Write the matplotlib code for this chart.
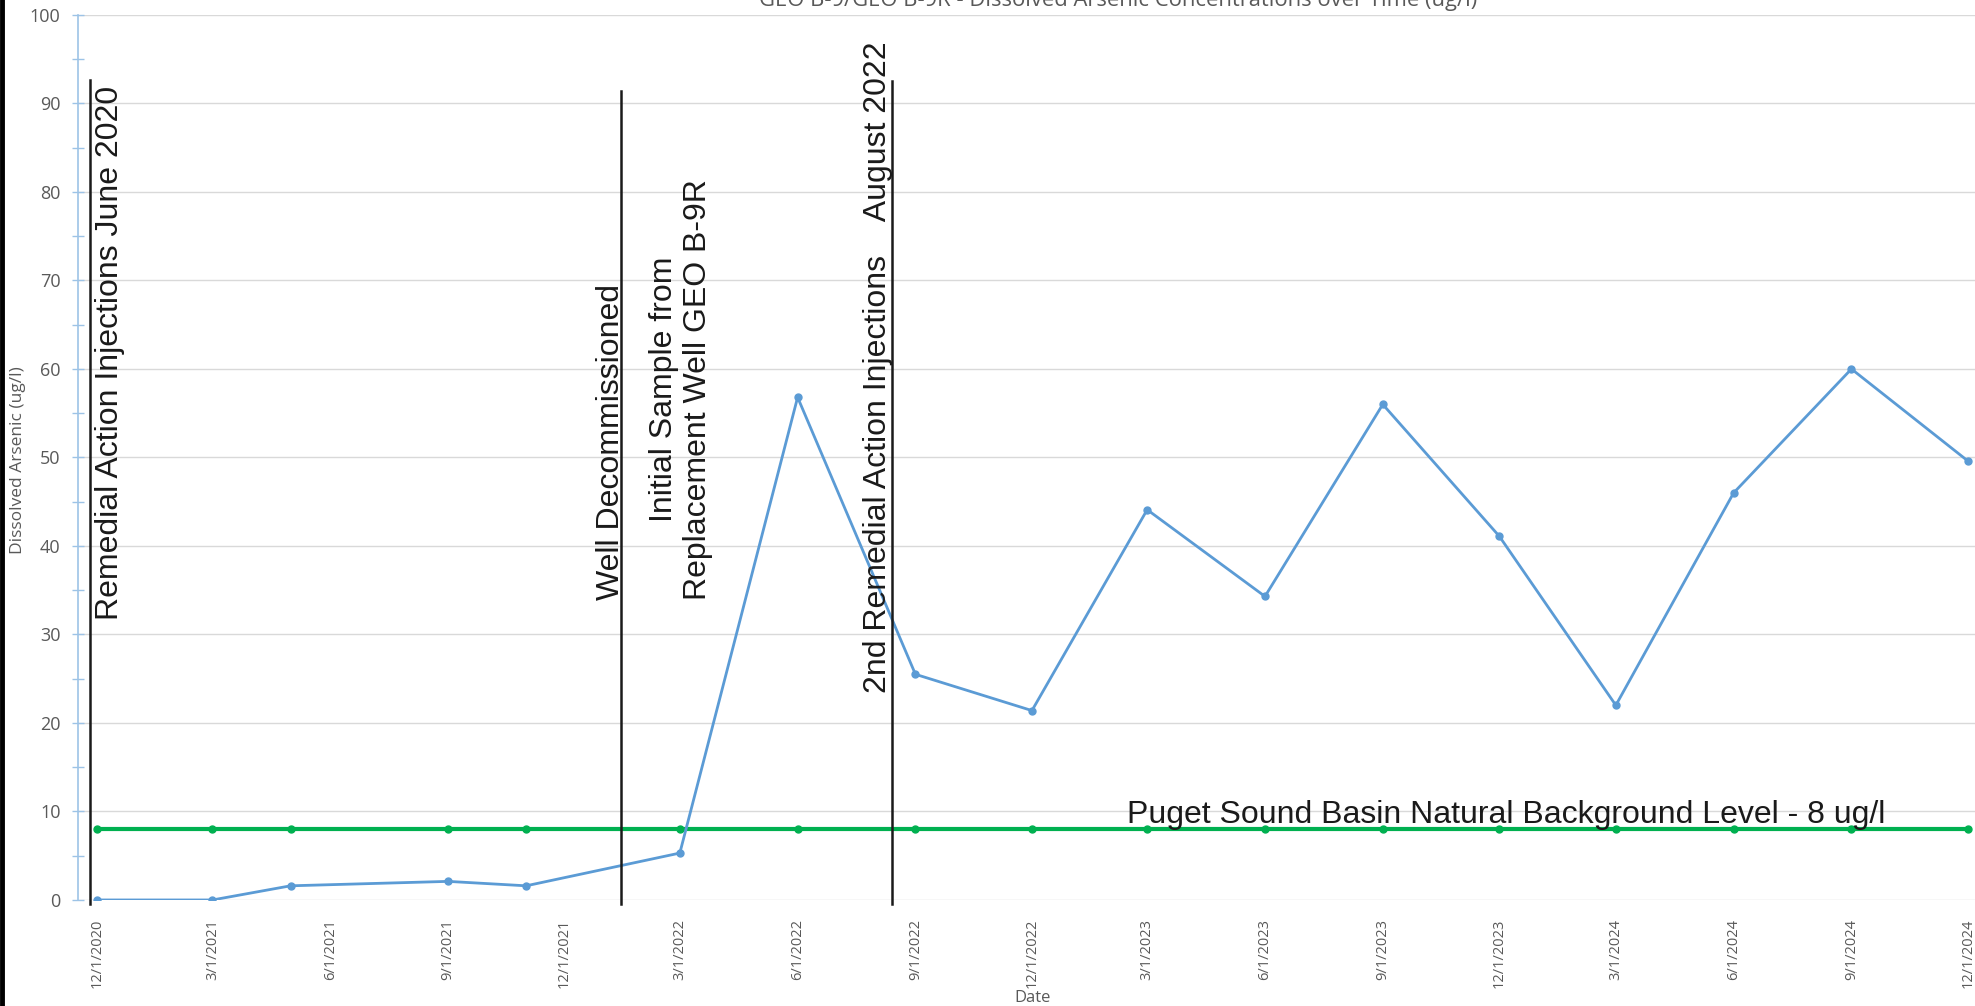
import matplotlib
matplotlib.use("Agg")
import matplotlib.pyplot as plt
from matplotlib.lines import Line2D
from matplotlib.ticker import MultipleLocator
from datetime import datetime

# ─ data
sample_dates = ["2020-12-01", "2021-03-01", "2021-05-01", "2021-09-01", "2021-11-01",
                "2022-03-01", "2022-06-01", "2022-09-01", "2022-12-01", "2023-03-01",
                "2023-06-01", "2023-09-01", "2023-12-01", "2024-03-01", "2024-06-01",
                "2024-09-01", "2024-12-01"]
arsenic = [0.0, 0.0, 1.6, 2.1, 1.6, 5.3, 56.8, 25.5, 21.4, 44.1,
           34.3, 56.0, 41.1, 22.0, 46.0, 60.0, 49.6]
background = [8] * len(sample_dates)

tick_dates = ["2020-12-01", "2021-03-01", "2021-06-01", "2021-09-01", "2021-12-01",
              "2022-03-01", "2022-06-01", "2022-09-01", "2022-12-01", "2023-03-01",
              "2023-06-01", "2023-09-01", "2023-12-01", "2024-03-01", "2024-06-01",
              "2024-09-01", "2024-12-01"]

# vertical event markers (date, top of line)
event_dates = ["2020-11-25", "2022-01-14", "2022-08-14"]
event_tops = [92.7, 91.4, 92.5]

# rotated event notes (date of text centre, bottom value, text)
note_dates = ["2020-12-11", "2022-01-06", "2022-03-02", "2022-08-03"]
note_bottoms = [31.6, 33.9, 33.9, 23.4]
note_texts = ["Remedial Action Injections June 2020",
              "Well Decommissioned",
              "Initial Sample from\nReplacement Well GEO B-9R",
              "2nd Remedial Action Injections    August 2022"]

to_dt = lambda s: datetime.strptime(s, "%Y-%m-%d")
x = [to_dt(d) for d in sample_dates]
ticks = [to_dt(d) for d in tick_dates]

GREY = "#595959"
ANNOT = ["Liberation Sans", "DejaVu Sans"]

fig = plt.figure(figsize=(19.75, 10.06), dpi=100)
ax = fig.add_axes([0.0395, 0.1054, 0.9605, 0.8797])

ax.plot(x, background, color="#00B050", lw=3.0, marker="o", ms=5, zorder=3)
ax.plot(x, arsenic, color="#5B9BD5", lw=2.0, marker="o", ms=5, zorder=4)

for d, top in zip(event_dates, event_tops):
    ax.plot([to_dt(d)] * 2, [-0.5, top], color="#1a1a1a", lw=1.8, zorder=5, clip_on=False)

ax.set_xlim(datetime(2020, 11, 16), datetime(2024, 12, 6, 12))
ax.set_ylim(0, 100)

ax.yaxis.set_major_locator(MultipleLocator(10))
ax.yaxis.set_minor_locator(MultipleLocator(5))
ax.grid(axis="y", color="#D9D9D9", lw=1.0, zorder=0)
ax.set_axisbelow(True)
for s in ["top", "right", "bottom"]:
    ax.spines[s].set_visible(False)
ax.spines["left"].set_color("#9DC3E6")
ax.spines["left"].set_linewidth(1.2)
ax.tick_params(axis="y", which="both", direction="inout", length=9, width=1.0,
               color="#9DC3E6", labelcolor=GREY, labelsize=13, pad=8)
for lab in ax.get_yticklabels():
    lab.set_family("Open Sans")

ax.set_xticks(ticks)
ax.set_xticklabels([f"{d.month}/{d.day}/{d.year}" for d in ticks], rotation=90,
                   fontsize=10.5, color=GREY, family="Open Sans")
ax.tick_params(axis="x", length=0, pad=13.5)

for d, b, s in zip(note_dates, note_bottoms, note_texts):
    ax.text(to_dt(d), b, s, rotation=90, ha="center", va="bottom", fontsize=23,
            family=ANNOT, color="#1a1a1a", linespacing=1.15, zorder=6)

ax.text(datetime(2023, 2, 13), 8.7, "Puget Sound Basin Natural Background Level - 8 ug/l",
        ha="left", va="baseline", fontsize=23, family=ANNOT, color="#1a1a1a", zorder=6)

fig.text(18 / 1975, 0.5427, "Dissolved Arsenic (ug/l)", rotation=90, ha="center",
         va="center", fontsize=12.5, color=GREY, family="Open Sans")
fig.text(1033 / 1975, 8 / 1006, "Date", ha="center", va="center", fontsize=12,
         color=GREY, family="Open Sans")
fig.text(1118 / 1975, 1 - 6 / 1006,
         "GEO B-9/GEO B-9R - Dissolved Arsenic Concentrations over Time (ug/l)",
         ha="center", va="baseline", fontsize=15.8, color=GREY, family="Open Sans")

fig.add_artist(Line2D([0.001, 0.001], [0, 1], color="black", lw=3.5,
                      transform=fig.transFigure))

fig.savefig("out.png", dpi=100)
